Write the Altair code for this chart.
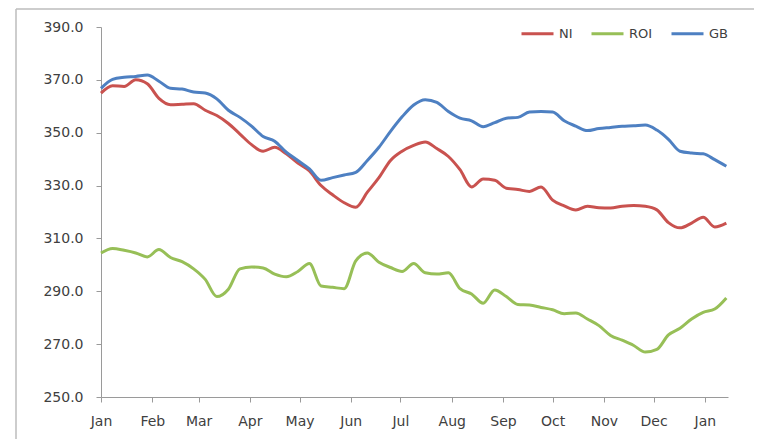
import altair as alt
import pandas as pd

# Weekly readings, starting 1 Jan
NI = [365.0, 367.8, 367.5, 370.0, 368.5, 363.0, 360.6, 360.8, 361.0, 358.5,
      356.5, 353.5, 349.5, 345.5, 343.0, 344.5, 342.0, 338.5, 335.5, 330.0,
      326.5, 323.5, 321.8, 327.5, 333.0, 339.5, 343.0, 345.2, 346.5, 344.0,
      341.0, 336.0, 329.5, 332.5, 332.0, 329.0, 328.5, 327.8, 329.5, 324.5,
      322.3, 320.8, 322.2, 321.6, 321.5, 322.2, 322.5, 322.2, 320.8, 316.0,
      314.0, 315.8, 318.0, 314.3, 315.8]
ROI = [304.5, 306.2, 305.5, 304.5, 303.0, 305.8, 302.8, 301.2, 298.5, 294.5,
       288.0, 290.8, 298.5, 299.2, 298.8, 296.5, 295.5, 297.5, 300.5, 292.0,
       291.5, 291.0, 301.5, 304.5, 301.0, 299.0, 297.5, 300.5, 297.0, 296.5,
       297.0, 291.0, 289.0, 285.5, 290.5, 288.0, 285.0, 284.8, 283.9, 283.0,
       281.5, 281.8, 279.5, 277.0, 273.3, 271.5, 269.5, 267.0, 268.0, 273.5,
       276.0, 279.5, 282.0, 283.3, 287.5]
GB = [366.8, 370.2, 371.0, 371.3, 371.8, 369.5, 366.8, 366.5, 365.4, 365.0,
      362.8, 358.5, 355.8, 352.5, 348.6, 346.8, 342.6, 339.5, 336.3, 332.0,
      333.0, 334.0, 335.0, 339.5, 344.5, 350.5, 356.0, 360.5, 362.5, 361.5,
      358.0, 355.5, 354.5, 352.3, 353.8, 355.5, 355.8, 357.8, 358.0, 357.8,
      354.5, 352.5, 350.8, 351.6, 352.0, 352.4, 352.6, 352.9, 351.0, 347.5,
      343.0, 342.3, 342.0, 339.8, 337.3]
series_names = ["NI", "ROI", "GB"]
series_colors = ["#C9524F", "#97BF57", "#4E80C2"]
y_ticks = [250, 270, 290, 310, 330, 350, 370, 390]

dates = pd.date_range("2013-01-01", periods=len(GB), freq="7D").strftime("%Y-%m-%d").tolist()

rows = []
for name, vals in zip(series_names, [NI, ROI, GB]):
    for d, v in zip(dates, vals):
        rows.append({"date": d, "series": name, "value": v})
df = pd.DataFrame(rows)

month_ticks = [alt.DateTime(year=2013, month=m, date=1, utc=True) for m in range(1, 13)]
month_ticks.append(alt.DateTime(year=2014, month=1, date=1, utc=True))

font = "DejaVu Sans"
axis_col = "#9A9A9A"
lab_col = "#404040"

lines = alt.Chart(df).mark_line(strokeWidth=3, interpolate="monotone").encode(
    x=alt.X("date:T",
            scale=alt.Scale(type="utc",
                            domain=[alt.DateTime(year=2013, month=1, date=1, utc=True),
                                    alt.DateTime(year=2014, month=1, date=15, utc=True)]),
            axis=alt.Axis(values=month_ticks, format="%b", title=None, grid=False,
                          tickSize=5, labelPadding=12, domainColor=axis_col,
                          tickColor=axis_col, labelColor=lab_col, labelFont=font,
                          labelFontSize=14, labelFlush=False)),
    y=alt.Y("value:Q",
            scale=alt.Scale(domain=[250, 390], nice=False, zero=False),
            axis=alt.Axis(values=y_ticks, format=".1f", title=None, grid=False,
                          tickSize=5, labelPadding=13, domainColor=axis_col,
                          tickColor=axis_col, labelColor=lab_col, labelFont=font,
                          labelFontSize=14)),
    color=alt.Color("series:N",
                    scale=alt.Scale(domain=series_names, range=series_colors),
                    sort=series_names,
                    legend=alt.Legend(orient="none", legendX=419, legendY=-11,
                                      direction="horizontal", title=None,
                                      symbolType="stroke", symbolSize=1024,
                                      symbolStrokeWidth=3, labelFont=font,
                                      labelFontSize=13, labelColor=lab_col,
                                      columnPadding=12, labelOffset=4)),
)

frame_df = pd.DataFrame({"k": [0]})
frame_left = alt.Chart(frame_df).mark_rule(color="#BDBDBD", strokeWidth=1.5).encode(
    x=alt.value(-85), y=alt.value(-18), y2=alt.value(420))
frame_top = alt.Chart(frame_df).mark_rule(color="#BDBDBD", strokeWidth=1.5).encode(
    x=alt.value(-85), x2=alt.value(660), y=alt.value(-18))

chart = alt.layer(frame_left, frame_top, lines).properties(
    width=627, height=370,
    padding={"left": 93, "top": 19, "right": 26, "bottom": 42},
    autosize=alt.AutoSizeParams(type="none"),
).configure_view(stroke="transparent")

chart.save("out.html", embed_options={"renderer": "svg", "actions": False})
